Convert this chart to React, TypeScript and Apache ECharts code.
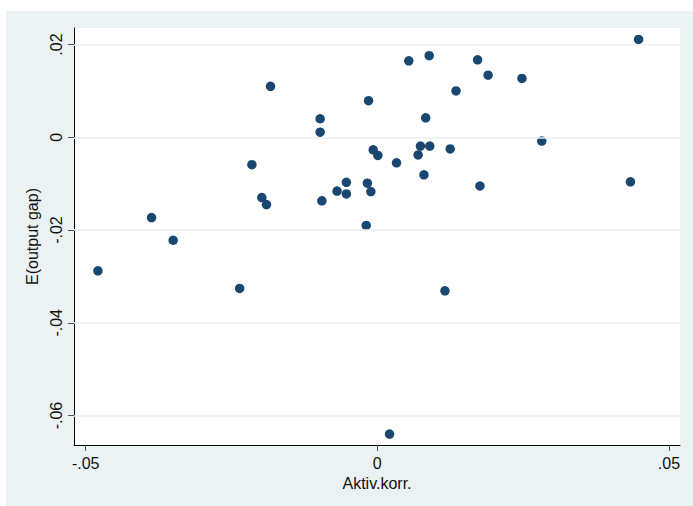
import React, { useEffect, useRef } from "react";
import * as echarts from "echarts";

const aktivKorr: number[] = [
  -0.0479, -0.0387, -0.035, -0.0236, -0.0215, -0.0198, -0.019, -0.0183,
  -0.0098, -0.0098, -0.0095, -0.0069, -0.0053, -0.0053, -0.0019, -0.0015,
  -0.0017, -0.0011, -0.0007, 0.0001, 0.0021, 0.0033, 0.0054, 0.007, 0.0074,
  0.008, 0.0083, 0.0089, 0.009, 0.0116, 0.0125, 0.0135, 0.0172, 0.0176,
  0.019, 0.0248, 0.0282, 0.0434, 0.0448,
];
const outputGap: number[] = [
  -0.0288, -0.0173, -0.0222, -0.0326, -0.0059, -0.013, -0.0145, 0.011,
  0.004, 0.0011, -0.0137, -0.0116, -0.0097, -0.0122, -0.019, 0.0079,
  -0.0099, -0.0117, -0.0027, -0.0039, -0.064, -0.0055, 0.0165, -0.0038,
  -0.0019, -0.0081, 0.0042, 0.0176, -0.0019, -0.0331, -0.0025, 0.01, 0.0167,
  -0.0105, 0.0134, 0.0127, -0.0008, -0.0096, 0.0211,
];
const xTicks: number[] = [-0.05, 0, 0.05];
const yTicks: number[] = [-0.06, -0.04, -0.02, 0, 0.02];
const xTitle = "Aktiv.korr.";
const yTitle = "E(output gap)";

const fmt = (v: number) => {
  if (Math.abs(v) < 1e-9) return "0";
  return v.toFixed(2).replace("0.", ".");
};

const FONT = "'Liberation Sans', Arial, Helvetica, sans-serif";

export default function App() {
  const ref = useRef<HTMLDivElement>(null);
  useEffect(() => {
    if (!ref.current) return;
    const chart = echarts.init(ref.current, undefined, { renderer: "svg" });
    const points = aktivKorr.map((x, i) => [x, outputGap[i]]);
    chart.setOption({
      animation: false,
      backgroundColor: "transparent",
      textStyle: { fontFamily: FONT },
      grid: {
        left: 74,
        top: 28,
        width: 606,
        height: 417,
        show: true,
        backgroundColor: "#ffffff",
        borderWidth: 0,
      },
      xAxis: {
        type: "value",
        min: -0.052,
        max: 0.0519,
        name: xTitle,
        nameLocation: "middle",
        nameGap: 30,
        nameTextStyle: { fontSize: 16, color: "#111", fontFamily: FONT },
        axisLine: { show: true, onZero: false, lineStyle: { color: "#000", width: 1 } },
        axisTick: {
          show: true,
          length: 6,
          inside: false,
          customValues: xTicks,
          lineStyle: { color: "#555", width: 1 },
        },
        axisLabel: {
          show: true,
          customValues: xTicks,
          formatter: (v: number) => fmt(v),
          fontSize: 16,
          color: "#111",
          fontFamily: FONT,
          margin: 10,
          showMinLabel: true,
          showMaxLabel: true,
        },
        splitLine: { show: false },
      },
      yAxis: {
        type: "value",
        min: -0.06635,
        max: 0.02357,
        name: yTitle,
        nameLocation: "middle",
        nameRotate: 90,
        nameGap: 32,
        nameTextStyle: { fontSize: 16, color: "#111", fontFamily: FONT },
        axisLine: { show: true, onZero: false, lineStyle: { color: "#000", width: 1 } },
        axisTick: {
          show: true,
          length: 6,
          inside: false,
          customValues: yTicks,
          lineStyle: { color: "#555", width: 1 },
        },
        axisLabel: {
          show: true,
          customValues: yTicks,
          rotate: 90,
          formatter: (v: number) => fmt(v),
          fontSize: 16,
          color: "#111",
          fontFamily: FONT,
          margin: 10,
          showMinLabel: true,
          showMaxLabel: true,
        },
        splitLine: { show: false },
      },
      series: [
        {
          type: "scatter",
          data: [],
          z: 1,
          silent: true,
          markLine: {
            silent: true,
            symbol: ["none", "none"],
            label: { show: false },
            lineStyle: { color: "#E8EFF1", width: 1.5, type: "solid" },
            data: yTicks.map((v) => ({ yAxis: v })),
          },
        },
        {
          type: "scatter",
          z: 3,
          data: points,
          symbol: "circle",
          symbolSize: 9.5,
          itemStyle: { color: "#1a476f", opacity: 1 },
        },
      ],
    });
    return () => chart.dispose();
  }, []);
  return (
    <div
      style={{
        position: "fixed",
        left: 0,
        top: 0,
        width: 693,
        height: 506,
        background: "#ffffff",
      }}
    >
      <div
        style={{
          position: "absolute",
          left: 6,
          top: 11,
          width: 687,
          height: 495,
          background: "#EAF2F3",
        }}
      />
      <div
        ref={ref}
        style={{ position: "absolute", left: 0, top: 0, width: 693, height: 506 }}
      />
    </div>
  );
}
